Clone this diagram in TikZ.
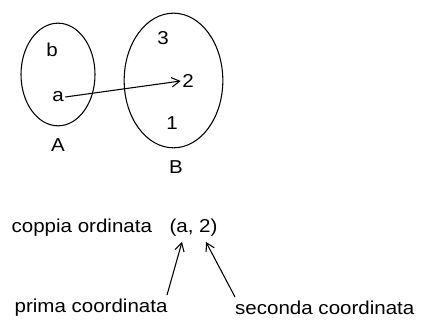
\documentclass[tikz,border=0pt]{standalone}
\usepackage{fontspec}
\setmainfont{Liberation Sans}[FakeStretch=1.1]
\usetikzlibrary{shapes.geometric,arrows.meta}

\tikzset{
  insieme/.style={draw,ellipse,line width=0.8pt,inner sep=0pt},
  testo/.style={font=\fontsize{14}{16}\selectfont,inner sep=1pt},
  freccia/.style={-{Straight Barb[length=6pt,width=7pt]},line width=0.8pt}
}

\begin{document}
\begin{tikzpicture}[x=0.75pt,y=-0.75pt]
  \useasboundingbox (0,0) rectangle (423,320);
  % i due insiemi
  \node[insieme,minimum width=55.5pt,minimum height=77pt] (A) at (58,74.5){};
  \node[insieme,minimum width=74pt,minimum height=101pt] (B) at (173.5,80.5){};
  \foreach \t/\n/\x/\y in {b/eb/52/50, a/ea/58/97, A/nA/58/145,
    3/tre/163/38, 2/due/188/81, 1/uno/172/123, B/nB/176/167}
  {\node[testo] (\n) at (\x,\y){\t};}
  \draw[freccia] (ea.east) -- (due.west);
  % coppia ordinata
  \node[testo,anchor=west] (coppia) at (10,228){coppia ordinata};
  \node[testo] (pair) at (193.5,228){(a, 2)};
  \node[testo,anchor=west] (prima) at (13,308){prima coordinata};
  \node[testo,anchor=east] (seconda) at (416,308){seconda coordinata};
  \coordinate (p1) at (167,295);
  \coordinate (p2) at (235,297);
  \coordinate (q1) at (182,242);
  \coordinate (q2) at (206,242);
  \draw[freccia] (p1) -- (q1);
  \draw[freccia] (p2) -- (q2);
\end{tikzpicture}
\end{document}
